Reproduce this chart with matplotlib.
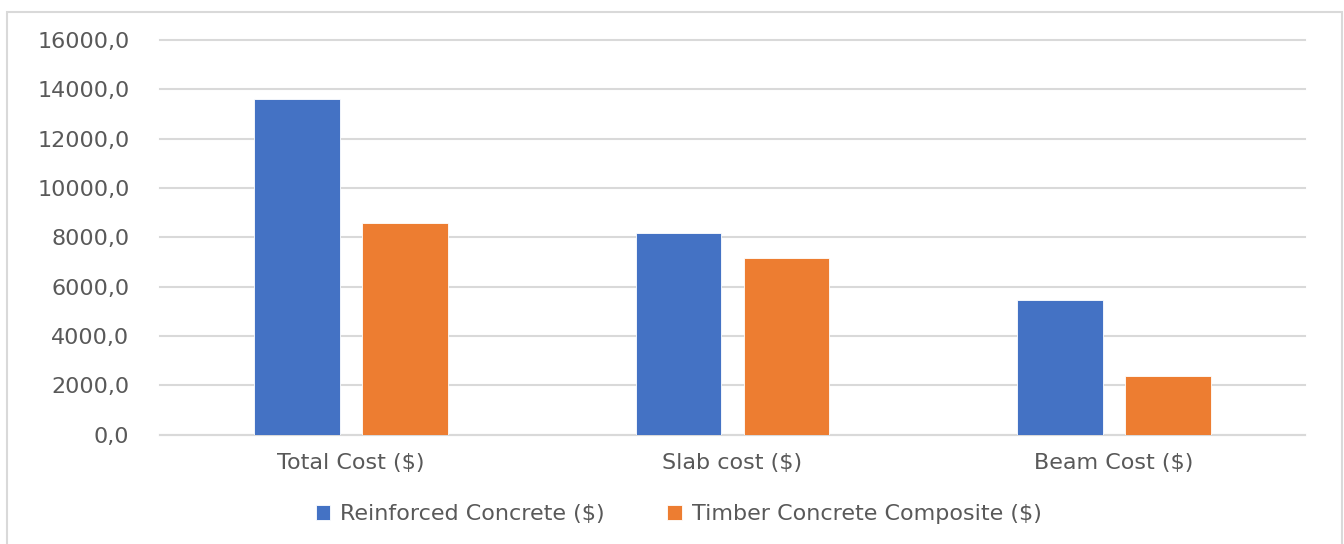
import matplotlib
matplotlib.use("Agg")
import matplotlib.pyplot as plt
from matplotlib.patches import Rectangle
from matplotlib.ticker import FuncFormatter
import numpy as np

categories = ["Total Cost ($)", "Slab cost ($)", "Beam Cost ($)"]
series_names = ["Reinforced Concrete ($)", "Timber Concrete Composite ($)"]
rc_values = [13600, 8170, 5460]
tcc_values = [8570, 7150, 2370]
yticks = [0, 2000, 4000, 6000, 8000, 10000, 12000, 14000, 16000]

colors = ["#4472C4", "#ED7D31"]
text_color = "#595959"
grid_color = "#D9D9D9"

plt.rcParams['font.family'] = ['DejaVu Sans']
fs = 16

fig = plt.figure(figsize=(13.44, 5.44), dpi=100)
ax = fig.add_axes([160/1344, 1-434.7/544, (1305-160)/1344, (434.7-40)/544])

x = np.arange(len(categories))
w = 0.225
off = 0.1415
b1 = ax.bar(x - off, rc_values, w, color=colors[0], edgecolor="white", linewidth=0.6, label=series_names[0], zorder=3)
b2 = ax.bar(x + off, tcc_values, w, color=colors[1], edgecolor="white", linewidth=0.6, label=series_names[1], zorder=3)

ax.set_xlim(-0.5, 2.5)
ax.set_ylim(0, 16000)
ax.set_yticks(yticks)
ax.yaxis.set_major_formatter(FuncFormatter(lambda v, p: f"{v:.1f}".replace(".", ",")))
ax.set_xticks(x)
ax.set_xticklabels(categories)
ax.tick_params(axis="both", length=0, labelcolor=text_color, labelsize=fs)
ax.tick_params(axis="y", pad=22)
ax.tick_params(axis="x", pad=13)
ax.grid(axis="y", color=grid_color, linewidth=1.5, zorder=0)
for gl in ax.get_ygridlines():
    gl.set_clip_on(False)
for s in ["top", "right", "left"]:
    ax.spines[s].set_visible(False)
ax.spines["bottom"].set_color(grid_color)
ax.spines["bottom"].set_linewidth(1.5)

leg = fig.legend(handles=[b1, b2], labels=series_names, loc="center", bbox_to_anchor=(0.505, 1-514/544),
                 ncol=2, frameon=False, fontsize=fs, labelcolor=text_color,
                 handlelength=0.65, handleheight=0.65, handletextpad=0.45, columnspacing=2.8)

fig.patches.append(Rectangle((7/1344, -0.02), (1342-7)/1344, 1-12/544+0.02, transform=fig.transFigure,
                             fill=False, edgecolor="#D9D9D9", linewidth=1.5))

fig.savefig("out.png", dpi=100, facecolor="white")
